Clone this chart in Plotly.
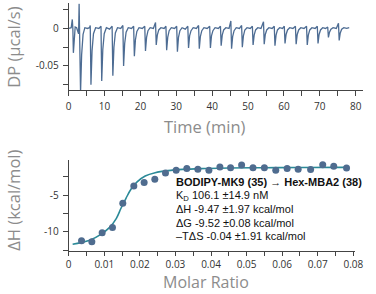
import plotly.graph_objects as go

# ---------------- DATA ----------------
# Raw thermogram (DP vs time)
dp_time = [0.1, 0.7, 1.0, 1.15, 1.3, 1.5, 1.8, 2.2, 2.5, 2.75, 2.9, 3.05, 3.3, 3.6, 4.0, 4.5,
           5.2, 5.8, 6.0, 6.2, 6.5, 6.9, 7.5, 8.4, 9.0, 9.2, 9.5, 9.9, 10.5, 11.4,
           12.1, 12.3, 12.6, 13.0, 13.6, 14.5, 15.1, 15.3, 15.6, 16.0, 16.6, 17.5,
           18.1, 18.3, 18.6, 19.0, 19.6, 20.5, 21.2, 21.4, 21.7, 22.1, 22.7, 23.6,
           24.2, 24.4, 24.7, 25.1, 25.7, 26.6, 27.1, 27.3, 27.6, 28.0, 28.6, 29.5,
           30.1, 30.3, 30.6, 31.0, 31.6, 32.5, 33.2, 33.4, 33.7, 34.1, 34.7, 35.6,
           36.2, 36.4, 36.7, 37.1, 37.7, 38.6, 39.3, 39.5, 39.8, 40.2, 40.8, 41.7,
           42.3, 42.5, 42.8, 43.2, 43.8, 44.7, 45.2, 45.4, 45.7, 46.1, 46.7, 47.6,
           48.2, 48.4, 48.7, 49.1, 49.7, 50.6, 51.2, 51.4, 51.7, 52.1, 52.7, 53.6,
           54.3, 54.5, 54.8, 55.2, 55.8, 56.7, 57.3, 57.5, 57.8, 58.2, 58.8, 59.6,
           60.1, 60.3, 60.6, 61.0, 61.6, 62.5, 63.2, 63.4, 63.7, 64.1, 64.7, 65.6,
           66.3, 66.5, 66.8, 67.2, 67.8, 68.7, 69.3, 69.5, 69.8, 70.2, 70.8, 71.6,
           72.2, 72.4, 72.7, 73.1, 73.7, 74.6, 75.2, 75.4, 75.7, 76.1, 76.7, 77.5, 78.2]
dp_value = [0.000, 0.001, 0.012, 0.000, -0.0325, -0.012, 0.002, 0.001, -0.004, -0.007, 0.033, -0.010, -0.085, -0.035, -0.008, 0.001,
            0.000, 0.001, 0.004, -0.075, -0.030, -0.007, 0.001, 0.000, 0.003, -0.070, -0.028, -0.007, 0.001, -0.001,
            0.003, -0.063, -0.025, -0.006, 0.001, 0.000, 0.004, -0.050, -0.020, -0.005, 0.001, 0.000,
            0.003, -0.037, -0.015, -0.004, 0.001, 0.000, 0.003, -0.030, -0.012, -0.003, 0.001, 0.000,
            0.008, -0.022, -0.009, -0.002, 0.001, 0.000, 0.003, -0.029, -0.012, -0.003, 0.001, 0.000,
            0.003, -0.031, -0.012, -0.003, 0.001, -0.001, 0.003, -0.026, -0.010, -0.003, 0.001, 0.000,
            0.004, -0.027, -0.011, -0.003, 0.001, 0.000, 0.003, -0.026, -0.010, -0.003, 0.001, 0.000,
            0.003, -0.023, -0.009, -0.002, 0.001, 0.000, 0.010, -0.027, -0.011, -0.003, 0.001, 0.000,
            0.004, -0.025, -0.010, -0.002, 0.001, 0.000, 0.003, -0.022, -0.009, -0.002, 0.001, 0.000,
            0.009, -0.021, -0.008, -0.002, 0.001, 0.000, 0.003, -0.023, -0.009, -0.002, 0.001, 0.000,
            0.003, -0.020, -0.008, -0.002, 0.001, 0.000, 0.003, -0.021, -0.008, -0.002, 0.001, 0.000,
            0.003, -0.022, -0.009, -0.002, 0.001, 0.000, 0.003, -0.020, -0.008, -0.002, 0.001, 0.000,
            0.002, -0.012, -0.005, -0.001, 0.001, 0.000, 0.007, -0.016, -0.006, -0.001, 0.001, 0.000, 0.001]

# Integrated heats
molar_ratio = [0.0036, 0.0065, 0.0094, 0.0123, 0.0152, 0.0183, 0.0212, 0.0242, 0.0272, 0.0302,
               0.0332, 0.0363, 0.0394, 0.0425, 0.0455, 0.0486, 0.0518, 0.0550, 0.0582, 0.0614,
               0.0645, 0.0680, 0.0714, 0.0745, 0.0781]
delta_h = [-11.2, -11.35, -10.12, -9.39, -6.1, -3.72, -3.25, -2.8, -1.95, -1.6,
           -1.36, -1.45, -1.59, -1.14, -1.23, -0.86, -1.23, -1.23, -1.59, -1.36,
           -1.45, -1.5, -0.82, -1.05, -1.27]

# Fitted binding curve
fit_x = [0.0011, 0.0034, 0.0061, 0.0088, 0.0115, 0.0134, 0.0147, 0.0161, 0.0175, 0.0193,
         0.0215, 0.0243, 0.0279, 0.032, 0.037, 0.045, 0.055, 0.065, 0.0775]
fit_y = [-11.69, -11.46, -11.1, -10.4, -9.37, -8.14, -6.77, -5.41, -4.18, -3.14,
         -2.37, -1.92, -1.64, -1.47, -1.36, -1.28, -1.24, -1.22, -1.2]

# Ticks
time_ticks = [0, 5, 10, 15, 20, 25, 30, 35, 40, 45, 50, 55, 60, 65, 70, 75, 80]
time_labels = ["0", "", "10", "", "20", "", "30", "", "40", "", "50", "", "60", "", "70", "", "80"]
dp_ticks = [-0.075, -0.05, -0.025, 0, 0.025]
dp_labels = ["", "-0.05", "", "0", ""]
ratio_ticks = [0, 0.005, 0.01, 0.015, 0.02, 0.025, 0.03, 0.035, 0.04, 0.045, 0.05, 0.055, 0.06, 0.065, 0.07, 0.075, 0.08]
ratio_labels = ["0", "", "0.01", "", "0.02", "", "0.03", "", "0.04", "", "0.05", "", "0.06", "", "0.07", "", "0.08"]
dh_ticks = [-12.5, -10, -7.5, -5, -2.5]
dh_labels = ["", "-10", "", "-5", ""]

info_lines = [
    "<b>BODIPY-MK9 (35) → Hex-MBA2 (38)</b>",
    "K<sub>D</sub> 106.1 ±14.9 nM",
    "ΔH -9.47 ±1.97 kcal/mol",
    "ΔG -9.52 ±0.08 kcal/mol",
    "–TΔS -0.04 ±1.91 kcal/mol",
]

# ---------------- FIGURE ----------------
W, H = 376, 294
fig = go.Figure()

fig.add_trace(go.Scatter(x=dp_time, y=dp_value, mode="lines",
                         line=dict(color="#4d6c93", width=1.3),
                         xaxis="x", yaxis="y", showlegend=False))
fig.add_trace(go.Scatter(x=fit_x, y=fit_y, mode="lines", line_shape="spline",
                         line=dict(color="#2b8a98", width=1.6),
                         xaxis="x2", yaxis="y2", showlegend=False))
fig.add_trace(go.Scatter(x=molar_ratio, y=delta_h, mode="markers",
                         marker=dict(color="#4f6c8f", size=7),
                         xaxis="x2", yaxis="y2", showlegend=False))

axis_common = dict(showgrid=False, zeroline=False, showline=True, linecolor="#444",
                   linewidth=1, ticks="outside", tickcolor="#444",
                   tickfont=dict(family="Open Sans", size=10, color="#333"))

fig.update_layout(
    width=W, height=H,
    margin=dict(l=0, r=0, t=0, b=0),
    paper_bgcolor="white", plot_bgcolor="white",
    xaxis=dict(domain=[67.7 / W, 370.7 / W], range=[0, 82], anchor="y", ticklen=5,
               tickvals=time_ticks, ticktext=time_labels, ticklabelstandoff=2, **axis_common),
    yaxis=dict(domain=[1 - 90 / H, 1 - 3.3 / H], range=[-0.082, 0.0335], anchor="x", ticklen=5,
               tickvals=dp_ticks, ticktext=dp_labels, ticklabelstandoff=2, **axis_common),
    xaxis2=dict(domain=[67.7 / W, 362.7 / W], range=[0, 0.0805], anchor="y2", ticklen=4,
                tickvals=ratio_ticks, ticktext=ratio_labels, ticklabelstandoff=0, **axis_common),
    yaxis2=dict(domain=[1 - 251 / H, 1 - 160.3 / H], range=[-12.6, -0.23], anchor="x2", ticklen=5,
                tickvals=dh_ticks, ticktext=dh_labels, ticklabelstandoff=2, **axis_common),
)

title_font = dict(family="Open Sans", size=16.5, color="#8c8c8c")
fig.add_annotation(text="DP (µcal/s)", x=10 / W, y=1 - 47 / H, xref="paper", yref="paper",
                   textangle=-90, showarrow=False, font=title_font,
                   xanchor="center", yanchor="middle")
fig.add_annotation(text="Time (min)", x=208 / W, y=1 - 127 / H, xref="paper", yref="paper",
                   showarrow=False, font=title_font, xanchor="center", yanchor="middle")
fig.add_annotation(text="ΔH (kcal/mol)", x=10 / W, y=1 - 200 / H, xref="paper", yref="paper",
                   textangle=-90, showarrow=False, font=title_font,
                   xanchor="center", yanchor="middle")
fig.add_annotation(text="Molar Ratio", x=209 / W, y=0, xref="paper", yref="paper",
                   showarrow=False, font=dict(family="Open Sans", size=16, color="#8c8c8c"),
                   xanchor="center", yanchor="bottom", borderpad=0)

line_y = [182, 195.5, 209, 222.5, 236]
for txt, yy in zip(info_lines, line_y):
    fig.add_annotation(text=txt, x=176.5 / W, y=1 - yy / H, xref="paper", yref="paper",
                       showarrow=False, xanchor="left", yanchor="middle",
                       font=dict(family="Liberation Sans", size=11, color="#111"))

fig.write_html("out.html", config={"displayModeBar": False},
               post_script="document.body.style.margin='0px';document.body.style.overflow='hidden';")
